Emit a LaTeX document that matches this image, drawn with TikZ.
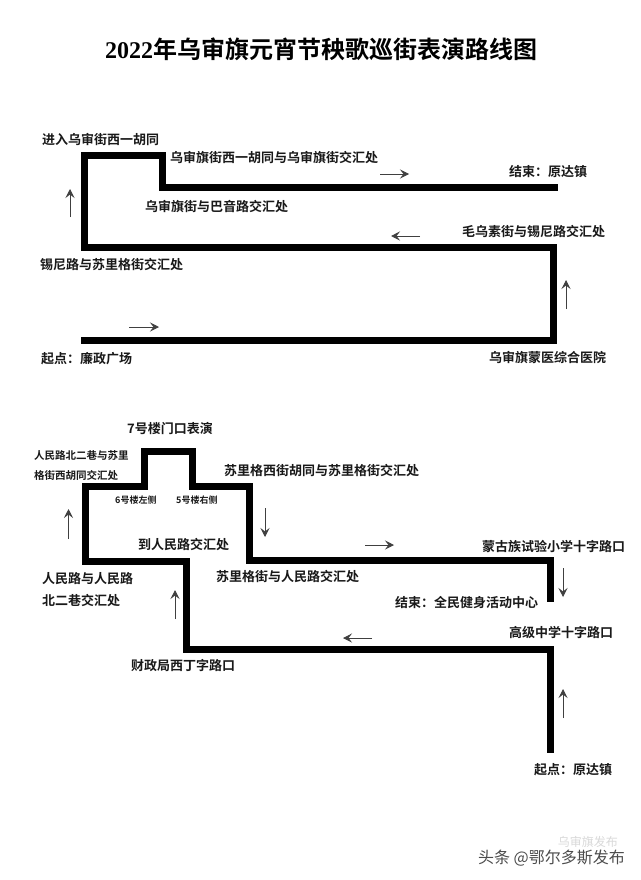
\documentclass[tikz,border=0pt]{standalone}
\usepackage{fontspec}
\setmainfont{Noto Sans CJK SC}[BoldFont={* Bold}]
\newfontfamily\latinserif{Liberation Serif}[BoldFont={* Bold}]
\usetikzlibrary{arrows.meta}
\tikzset{
 route/.style={line width=7pt,line cap=butt,line join=miter,black},
 dirarrow/.style={line width=0.8pt,draw=black!75,-{Stealth[length=9pt,width=9pt,inset=3.5pt]}},
 lab/.style={inner sep=0pt,font=\bfseries\fontsize{13}{15}\selectfont,text=black!90,anchor=west},
 smalllab/.style={lab,font=\bfseries\fontsize{10.5}{12}\selectfont},
 tinylab/.style={lab,font=\bfseries\fontsize{9}{11}\selectfont},
}
\begin{document}
\begin{tikzpicture}[x=1pt,y=-1pt]
\useasboundingbox (0,0) rectangle (640,880);
\fill[white] (0,0) rectangle (640,880);
\node[inner sep=0pt,font=\bfseries\fontsize{24}{27}\selectfont] (title) at (321,49) {{\latinserif\bfseries 2022}年乌审旗元宵节秧歌巡街表演路线图};
% top route
\coordinate (a0) at (81,340);\coordinate (a1) at (553.3,340);\coordinate (a2) at (553.3,247.7);
\coordinate (a3) at (84.2,247.7);\coordinate (a4) at (84.2,155.7);\coordinate (a5) at (162.7,155.7);
\coordinate (a6) at (162.7,187.7);\coordinate (a7) at (557.5,187.7);
\draw[route] (a0)--(a1)--(a2)--(a3)--(a4)--(a5)--(a6)--(a7);
% bottom route
\coordinate (b0) at (550,752.7);\coordinate (b1) at (550,649);\coordinate (b2) at (186,649);
\coordinate (b3) at (186,561);\coordinate (b4) at (85.3,561);\coordinate (b5) at (85.3,486);
\coordinate (b6) at (144,486);\coordinate (b7) at (144,451);\coordinate (b8) at (192.7,451);
\coordinate (b9) at (192.7,486);\coordinate (b10) at (249.3,486);\coordinate (b11) at (249.3,560);
\coordinate (b12) at (550,560);\coordinate (b13) at (550,602.3);
\draw[route] (b0)--(b1)--(b2)--(b3)--(b4)--(b5)--(b6)--(b7)--(b8)--(b9)--(b10)--(b11)--(b12)--(b13);
% arrows top
\coordinate (t1s) at (70,217);\coordinate (t1e) at (70,189);\draw[dirarrow] (t1s)--(t1e);
\coordinate (t2s) at (129,327);\coordinate (t2e) at (159,327);\draw[dirarrow] (t2s)--(t2e);
\coordinate (t3s) at (380,174);\coordinate (t3e) at (409,174);\draw[dirarrow] (t3s)--(t3e);
\coordinate (t4s) at (420,236);\coordinate (t4e) at (391,236);\draw[dirarrow] (t4s)--(t4e);
\coordinate (t5s) at (566,309);\coordinate (t5e) at (566,280);\draw[dirarrow] (t5s)--(t5e);
% arrows bottom
\coordinate (u1s) at (68.5,539);\coordinate (u1e) at (68.5,509);\draw[dirarrow] (u1s)--(u1e);
\coordinate (u2s) at (265,508);\coordinate (u2e) at (265,537);\draw[dirarrow] (u2s)--(u2e);
\coordinate (u3s) at (175,619);\coordinate (u3e) at (175,590);\draw[dirarrow] (u3s)--(u3e);
\coordinate (u4s) at (365,545);\coordinate (u4e) at (394,545);\draw[dirarrow] (u4s)--(u4e);
\coordinate (u5s) at (563,568);\coordinate (u5e) at (563,597);\draw[dirarrow] (u5s)--(u5e);
\coordinate (u6s) at (372,638);\coordinate (u6e) at (343,638);\draw[dirarrow] (u6s)--(u6e);
\coordinate (u7s) at (563,718);\coordinate (u7e) at (563,689);\draw[dirarrow] (u7s)--(u7e);
% labels top
\node[lab] (l1) at (42,140) {进入乌审街西一胡同};
\node[lab] (l2) at (170,158) {乌审旗街西一胡同与乌审旗街交汇处};
\node[lab] (l3) at (509,172) {结束：原达镇};
\node[lab] (l4) at (145,207) {乌审旗街与巴音路交汇处};
\node[lab] (l5) at (462,232) {毛乌素街与锡尼路交汇处};
\node[lab] (l6) at (40,265) {锡尼路与苏里格街交汇处};
\node[lab] (l7) at (41,359) {起点：廉政广场};
\node[lab] (l8) at (489,358) {乌审旗蒙医综合医院};
% labels bottom
\node[lab] (m1) at (127,429) {7号楼门口表演};
\node[smalllab] (m2) at (34,456) {人民路北二巷与苏里};
\node[smalllab] (m3) at (34,475) {格街西胡同交汇处};
\node[lab] (m4) at (224,471) {苏里格西街胡同与苏里格街交汇处};
\node[tinylab] (m5) at (115,500) {6号楼左侧};
\node[tinylab] (m6) at (176,500) {5号楼右侧};
\node[lab] (m7) at (138,545) {到人民路交汇处};
\node[lab] (m8) at (216,577) {苏里格街与人民路交汇处};
\node[lab] (m9) at (42,579) {人民路与人民路};
\node[lab] (m10) at (42,601) {北二巷交汇处};
\node[lab] (m11) at (482,546) {蒙古族试验小学十字路口};
\node[lab] (m12) at (395,603) {结束：全民健身活动中心};
\node[lab] (m13) at (509,633) {高级中学十字路口};
\node[lab] (m14) at (131,666) {财政局西丁字路口};
\node[lab] (m15) at (534,770) {起点：原达镇};
% watermark
\node[inner sep=0pt,anchor=east,font=\fontsize{12}{12}\selectfont,text=black!15] (w0) at (618,842) {乌审旗发布};
\node[inner sep=0pt,anchor=east,font=\fontsize{16}{17}\selectfont,text=black!70] (w1) at (625,858) {头条 @鄂尔多斯发布};
\end{tikzpicture}
\end{document}
